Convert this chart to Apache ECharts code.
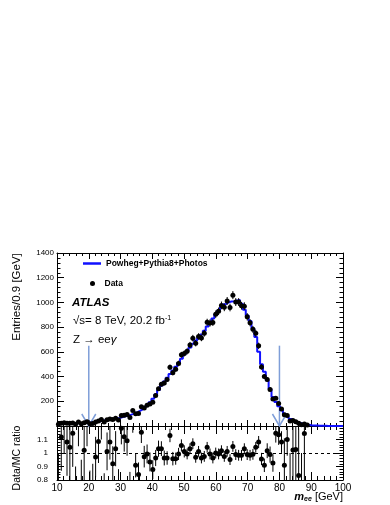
<!DOCTYPE html>
<html>
<head>
<meta charset="utf-8">
<script src="https://cdn.jsdelivr.net/npm/echarts@6.0.0/dist/echarts.min.js"></script>
<style>
html, body { margin: 0; padding: 0; background: #fff; }
#chart { width: 390px; height: 505px; }
</style>
</head>
<body>
<div id="chart"></div>
<script>
const FONT = '"Liberation Sans", Arial, sans-serif';
const BLUE = '#1010ff';
const ARROW = '#7f9ed8';

// 100 bins of 0.9 GeV from 10 to 100 GeV
const binStart = 10;
const binWidth = 0.9;

const mcCounts = [
  20, 20, 21, 21, 22, 22, 23, 24, 25, 26,
  27, 28, 30, 33, 38, 42, 46, 50, 53, 56,
  60, 65, 72, 78, 85, 92, 100, 110, 122, 135,
  150, 168, 192, 220, 255, 292, 328, 360, 390, 420,
  450, 480, 510, 545, 580, 608, 635, 665, 692, 715,
  740, 770, 805, 840, 870, 905, 935, 960, 985, 1000,
  1008, 1010, 1015, 1020, 990, 940, 895, 850, 790, 720,
  600, 500, 440, 370, 300, 235, 195, 160, 128, 100,
  76, 57, 44, 34, 26, 19, 14, 10, 7, 5,
  4, 3, 2, 2, 1, 1, 1, 1, 0, 0
];

const dataCounts = [
  14, 22, 27, 23, 23, 25, 14, 32, 18, 27,
  35, 18, 21, 32, 41, 53, 32, 51, 57, 52,
  62, 49, 85, 87, 93, 69, 125, 100, 102, 156,
  146, 167, 179, 193, 246, 301, 338, 347, 376, 475,
  431, 460, 506, 576, 587, 604, 655, 711, 670, 724,
  713, 751, 839, 834, 838, 905, 928, 976, 960, 1012,
  959, 1059, 1003, 1003, 973, 970, 884, 836, 782, 750,
  649, 478, 400, 376, 296, 218, 224, 182, 138, 91,
  84, 40, 45, 35, 22, 11, 16, 9, null, null,
  null, null, null, null, null, null, null, null, null, null
];

const ratioValues = [
  0.7, 1.118, 1.3, 1.081, 1.042, 1.147, 0.6, 1.35, 0.7, 1.02,
  1.3, 0.65, 0.7, 0.97, 1.086, 1.25, 0.7, 1.012, 1.081, 0.92,
  1.032, 0.75, 1.184, 1.12, 1.09, 0.75, 1.25, 0.909, 0.84, 1.154,
  0.973, 0.993, 0.934, 0.877, 0.963, 1.032, 1.032, 0.963, 0.963, 1.13,
  0.958, 0.958, 0.993, 1.056, 1.012, 0.993, 1.032, 1.069, 0.968, 1.012,
  0.963, 0.975, 1.042, 0.993, 0.963, 1.0, 0.993, 1.017, 0.975, 1.012,
  0.951, 1.049, 0.988, 0.983, 0.983, 1.032, 0.988, 0.983, 0.99, 1.042,
  1.081, 0.956, 0.909, 1.017, 0.988, 0.926, 1.147, 1.135, 1.081, 0.909,
  1.1, 0.7, 1.022, 1.026, 0.833, 0.6, 1.144, null, null, null,
  null, null, null, null, null, null, null, null, null, null
];

const ratioErrors = [
  0.3, 0.25, 0.3, 0.25, 0.25, 0.25, 0.3, 0.3, 0.25, 0.22,
  0.25, 0.22, 0.22, 0.15, 0.16, 0.15, 0.15, 0.14, 0.13, 0.13,
  0.13, 0.13, 0.12, 0.11, 0.11, 0.11, 0.1, 0.09, 0.09, 0.08,
  0.08, 0.07, 0.07, 0.07, 0.06, 0.06, 0.055, 0.055, 0.05, 0.05,
  0.05, 0.045, 0.045, 0.045, 0.045, 0.04, 0.04, 0.04, 0.04, 0.04,
  0.04, 0.04, 0.04, 0.04, 0.04, 0.04, 0.04, 0.04, 0.04, 0.04,
  0.04, 0.04, 0.04, 0.04, 0.04, 0.04, 0.04, 0.04, 0.04, 0.04,
  0.045, 0.045, 0.05, 0.055, 0.06, 0.065, 0.07, 0.075, 0.08, 0.2,
  0.12, 0.3, 0.3, 0.3, 0.35, 0.4, 0.4, null, null, null,
  null, null, null, null, null, null, null, null, null, null
];

// selection cuts marked by arrows
const arrowMasses = [20, 80];
const arrowTops = [650, 650];

const centres = mcCounts.map((_, i) => binStart + (i + 0.5) * binWidth);
const mcStep = mcCounts.map((v, i) => [binStart + i * binWidth, v]);
mcStep.push([binStart + mcCounts.length * binWidth, mcCounts[mcCounts.length - 1]]);

const dataPts = [], dataBars = [], ratioPts = [], ratioBars = [];
dataCounts.forEach((v, i) => {
  if (v == null) return;
  dataPts.push([centres[i], v]);
  dataBars.push([centres[i], v, Math.sqrt(v)]);
});
ratioValues.forEach((r, i) => {
  if (r == null) return;
  ratioPts.push([centres[i], r]);
  ratioBars.push([centres[i], r, ratioErrors[i]]);
});

function errorBar(params, api) {
  const x = api.value(0), y = api.value(1), e = api.value(2);
  const hi = api.coord([x, y + e]);
  const lo = api.coord([x, y - e]);
  return {
    type: 'line',
    shape: { x1: hi[0], y1: hi[1], x2: lo[0], y2: lo[1] },
    style: { stroke: '#000', lineWidth: 1 }
  };
}

function cutArrow(params, api) {
  const top = api.coord([api.value(0), api.value(1)]);
  const tip = api.coord([api.value(0), 0]);
  return {
    type: 'group',
    children: [
      { type: 'line', shape: { x1: top[0], y1: top[1], x2: tip[0], y2: tip[1] },
        style: { stroke: ARROW, lineWidth: 1.5 } },
      { type: 'polyline', shape: { points: [[tip[0] - 7, tip[1] - 12], [tip[0], tip[1]], [tip[0] + 7, tip[1] - 12]] },
        style: { stroke: ARROW, lineWidth: 1.5, fill: null } }
    ]
  };
}

function xAxis(grid, position, labels, tickLen, minorLen) {
  return {
    type: 'value', gridIndex: grid, position: position,
    min: 10, max: 100, interval: 10,
    axisLine: { show: true, onZero: false, lineStyle: { color: '#000', width: 1 } },
    axisTick: { show: true, inside: true, length: tickLen, lineStyle: { color: '#000' } },
    minorTick: { show: true, splitNumber: 5, length: minorLen, lineStyle: { color: '#000' } },
    axisLabel: { show: labels, fontFamily: FONT, fontSize: 10, color: '#000', margin: 3 },
    splitLine: { show: false }
  };
}

function yAxis(grid, position, labels, min, max, interval, fmt, margin) {
  return {
    type: 'value', gridIndex: grid, position: position,
    min: min, max: max, interval: interval,
    axisLine: { show: true, onZero: false, lineStyle: { color: '#000', width: 1 } },
    axisTick: { show: true, inside: true, length: 7, lineStyle: { color: '#000' } },
    minorTick: { show: true, splitNumber: 5, length: 3.5, lineStyle: { color: '#000' } },
    axisLabel: { show: labels, fontFamily: FONT, fontSize: 8, color: '#000', margin: margin, formatter: fmt },
    splitLine: { show: false }
  };
}

const upperFmt = v => (v === 0 ? '' : String(v));
const lowerFmt = v => (v > 1.15 ? '' : String(Math.round(v * 10) / 10));

const chart = echarts.init(document.getElementById('chart'), null, { renderer: 'canvas' });

chart.setOption({
  animation: false,
  backgroundColor: '#fff',
  grid: [
    { left: 57, width: 286, top: 253, height: 173, outerBoundsMode: 'none' },
    { left: 57, width: 286, top: 426, height: 54, outerBoundsMode: 'none' }
  ],
  xAxis: [
    xAxis(0, 'bottom', false, 6, 3),
    xAxis(0, 'top', false, 6, 3),
    xAxis(1, 'bottom', true, 8, 4),
    xAxis(1, 'top', false, 8, 4)
  ],
  yAxis: [
    yAxis(0, 'left', true, 0, 1400, 200, upperFmt, 3),
    yAxis(0, 'right', false, 0, 1400, 200, upperFmt, 3),
    yAxis(1, 'left', true, 0.8, 1.2, 0.1, lowerFmt, 9),
    yAxis(1, 'right', false, 0.8, 1.2, 0.1, lowerFmt, 9)
  ],
  legend: [
    {
      data: [{ name: 'Powheg+Pythia8+Photos', icon: 'rect' }],
      left: 83, top: 259, padding: 0, itemWidth: 18, itemHeight: 2.5,
      selectedMode: false,
      textStyle: { fontFamily: FONT, fontWeight: 'bold', fontSize: 8.5, color: '#000' }
    },
    {
      data: [{ name: 'Data', icon: 'circle' }],
      left: 90, top: 279, padding: 0, itemWidth: 14, itemHeight: 5,
      selectedMode: false,
      itemStyle: { opacity: 1 },
      textStyle: { fontFamily: FONT, fontWeight: 'bold', fontSize: 8.5, color: '#000' }
    }
  ],
  graphic: [
    { type: 'text', x: 72, y: 303,
      style: { text: 'ATLAS', font: 'italic bold 11.5px ' + FONT, fill: '#000', verticalAlign: 'middle' } },
    { type: 'text', x: 73, y: 321,
      style: {
        text: '{a|√s= 8 TeV, 20.2 fb}{s|-1}', verticalAlign: 'middle',
        rich: {
          a: { fontFamily: FONT, fontSize: 11.5, color: '#000' },
          s: { fontFamily: FONT, fontSize: 7, color: '#000', verticalAlign: 'top' }
        }
      } },
    { type: 'text', x: 73, y: 340,
      style: {
        text: '{a|Z → ee}{g|γ}', verticalAlign: 'middle',
        rich: {
          a: { fontFamily: FONT, fontSize: 11.5, color: '#000' },
          g: { fontFamily: FONT, fontSize: 11.5, fontStyle: 'italic', color: '#000' }
        }
      } },
    { type: 'text', x: 17, y: 297, rotation: Math.PI / 2,
      style: { text: 'Entries/0.9 [GeV]', font: '11.5px ' + FONT, fill: '#000', align: 'center', verticalAlign: 'middle' } },
    { type: 'text', x: 17, y: 458, rotation: Math.PI / 2,
      style: { text: 'Data/MC ratio', font: '10.5px ' + FONT, fill: '#000', align: 'center', verticalAlign: 'middle' } },
    { type: 'text', x: 343, y: 497,
      style: {
        text: '{m|m}{e|ee}{g| [GeV]}', align: 'right', verticalAlign: 'middle',
        rich: {
          m: { fontFamily: FONT, fontSize: 11, fontStyle: 'italic', fontWeight: 'bold', color: '#000' },
          e: { fontFamily: FONT, fontSize: 7, fontStyle: 'italic', fontWeight: 'bold', color: '#000', verticalAlign: 'bottom' },
          g: { fontFamily: FONT, fontSize: 11, color: '#000' }
        }
      } }
  ],
  series: [
    {
      name: 'Powheg+Pythia8+Photos', type: 'line', xAxisIndex: 0, yAxisIndex: 0,
      step: 'end', data: mcStep, symbol: 'none', color: BLUE,
      lineStyle: { color: BLUE, width: 2 }, z: 3
    },
    {
      name: 'cuts', type: 'custom', xAxisIndex: 0, yAxisIndex: 0,
      data: arrowMasses.map((m, i) => [m, arrowTops[i]]),
      renderItem: cutArrow, z: 2, silent: true
    },
    {
      name: 'dataErr', type: 'custom', xAxisIndex: 0, yAxisIndex: 0,
      data: dataBars, renderItem: errorBar, clip: true, z: 4, silent: true
    },
    {
      name: 'Data', type: 'scatter', xAxisIndex: 0, yAxisIndex: 0,
      data: dataPts, symbolSize: 5, color: '#000',
      itemStyle: { color: '#000', opacity: 1 }, z: 5
    },
    {
      name: 'ratioErr', type: 'custom', xAxisIndex: 2, yAxisIndex: 2,
      data: ratioBars, renderItem: errorBar, clip: true, z: 4, silent: true
    },
    {
      name: 'ratio', type: 'scatter', xAxisIndex: 2, yAxisIndex: 2,
      data: ratioPts, symbolSize: 5, itemStyle: { color: '#000', opacity: 1 }, clip: true, z: 5,
      markLine: {
        silent: true, symbol: 'none', label: { show: false },
        lineStyle: { color: '#000', type: [3, 3], width: 1 },
        data: [{ yAxis: 1 }]
      }
    }
  ]
});
</script>
</body>
</html>
